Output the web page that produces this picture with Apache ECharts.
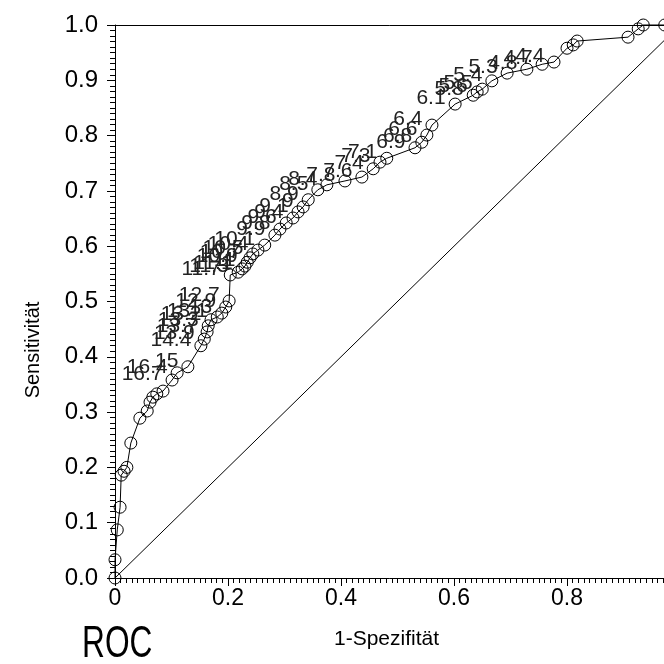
<!DOCTYPE html>
<html><head><meta charset="utf-8">
<script src="https://cdn.jsdelivr.net/npm/echarts@6/dist/echarts.min.js"></script>
<style>html,body{margin:0;padding:0;background:#fff}#c{width:664px;height:664px}</style>
</head><body><div id="c"></div>
<script>
// ROC curve points (1-Spezifität, Sensitivität) and cutoff labels
const fpr = [0,0,0.004,0.009,0.011,0.016,0.021,0.028,0.044,0.057,0.062,0.067,0.074,0.085,0.101,0.110,0.129,0.152,0.158,0.163,0.165,0.170,0.181,0.189,0.196,0.202,0.204,0.218,0.225,0.230,0.234,0.239,0.244,0.253,0.265,0.283,0.292,0.303,0.315,0.324,0.333,0.342,0.359,0.375,0.407,0.437,0.457,0.469,0.481,0.531,0.543,0.552,0.561,0.602,0.634,0.641,0.650,0.667,0.694,0.729,0.756,0.777,0.800,0.811,0.818,0.908,0.926,0.935,0.973,1];
const tpr = [0,0.033,0.087,0.128,0.186,0.193,0.200,0.244,0.289,0.302,0.318,0.327,0.333,0.338,0.358,0.371,0.382,0.420,0.432,0.445,0.456,0.467,0.472,0.479,0.490,0.501,0.548,0.553,0.559,0.564,0.571,0.579,0.586,0.593,0.602,0.620,0.631,0.642,0.651,0.662,0.671,0.684,0.702,0.711,0.718,0.725,0.740,0.752,0.759,0.778,0.788,0.801,0.819,0.857,0.873,0.879,0.884,0.899,0.913,0.920,0.929,0.933,0.958,0.964,0.971,0.978,0.993,1,1,1];
const cutoff = ["","","","","","","","","","","","","","","16.7","16.4","15","14.4","13.9","13.7","13.3","13.2","13.1","13","12.9","12.7","11.7","11.3","11.1","11","10.9","10.7","10.5","10.4","10.1","9.9","9.8","9.6","9.4","9.1","9","8.9","8.5","8.4","7.8","7.6","7.4","7.3","7.1","6.9","6.8","6.6","6.4","6.1","5.8","5.6","5.5","5.4","5.3","4.8","4.7","4.4","","","","","","","",""];
const diagonal = [[0,0],[1,1]];

const chart = echarts.init(document.getElementById('c'), null, {renderer:'canvas'});
const font = 'Liberation Sans, Arial, sans-serif';
chart.setOption({
  animation:false,
  backgroundColor:'#fff',
  graphic:[
    {type:'text', x:33, y:350, rotation:Math.PI/2,
      style:{text:'Sensitivität', fontFamily:font, fontSize:20, fill:'#000', align:'center', verticalAlign:'middle'}},
    {type:'text', x:82, y:645, scaleX:0.72,
      style:{text:'ROC', fontFamily:font, fontSize:44, fill:'#000', align:'left', verticalAlign:'middle'}}
  ],
  grid:{left:115, top:25, width:565, height:553, containLabel:false, outerBoundsMode:'none'},
  xAxis:[{
    type:'value', min:0, max:1, interval:0.2,
    name:'1-Spezifität', nameLocation:'middle', nameGap:51,
    nameTextStyle:{fontFamily:font, fontSize:21, color:'#000', padding:[0,22,0,0]},
    axisLine:{show:true, onZero:false, lineStyle:{color:'#000', width:1}},
    axisTick:{show:true, length:8, lineStyle:{color:'#000'}},
    minorTick:{show:true, splitNumber:20, length:5, lineStyle:{color:'#000'}},
    splitLine:{show:false},
    axisLabel:{fontFamily:font, fontSize:23, color:'#000', margin:9,
      formatter:v=> (v===0||v===1)? String(v) : v.toFixed(1)}
  },{
    type:'value', min:0, max:1, position:'top',
    axisLine:{show:true, onZero:false, lineStyle:{color:'#000', width:1}},
    axisTick:{show:false}, axisLabel:{show:false}, splitLine:{show:false}
  }],
  yAxis:{
    type:'value', min:0, max:1, interval:0.1,
    axisLine:{show:true, onZero:false, lineStyle:{color:'#000', width:1}},
    axisTick:{show:true, length:8, lineStyle:{color:'#000'}},
    minorTick:{show:true, splitNumber:10, length:5, lineStyle:{color:'#000'}},
    splitLine:{show:false},
    axisLabel:{fontFamily:font, fontSize:24, color:'#000', margin:17,
      formatter:v=>v.toFixed(1)}
  },
  series:[{
    type:'line', data:diagonal, symbol:'none', silent:true,
    lineStyle:{color:'#000', width:1}
  },{
    type:'line', data:fpr.map((x,i)=>[x,tpr[i]]), clip:false,
    symbol:'circle', symbolSize:12,
    itemStyle:{color:'rgba(0,0,0,0)', borderColor:'#000', borderWidth:1},
    lineStyle:{color:'#000', width:1},
    label:{show:true, position:'left', distance:3, offset:[0,-6],
      fontFamily:font, fontSize:21, color:'#222',
      formatter:p=>cutoff[p.dataIndex]}
  }]
});
</script></body></html>
